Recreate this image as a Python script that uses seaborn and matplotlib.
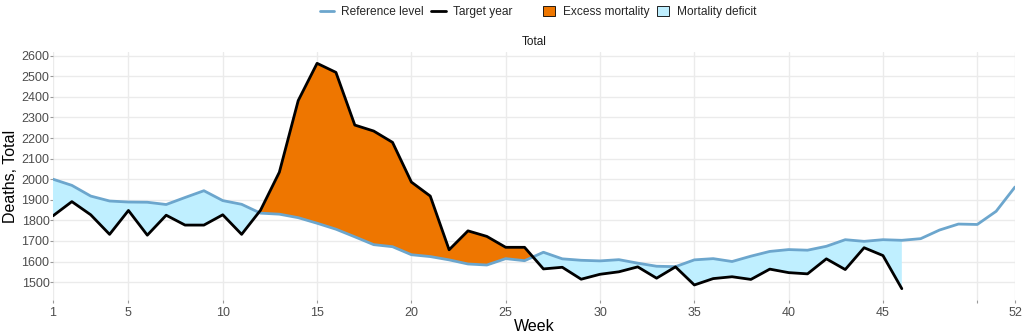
import numpy as np
import pandas as pd
import matplotlib
matplotlib.use("Agg")
import matplotlib.pyplot as plt
from matplotlib.lines import Line2D
from matplotlib.patches import Patch
import seaborn as sns

weeks = list(range(1, 53))
reference = [2000, 1970, 1918, 1894, 1889, 1888, 1877, 1911, 1944, 1896,
             1878, 1835, 1830, 1813, 1786, 1757, 1720, 1682, 1672, 1633,
             1624, 1608, 1588, 1583, 1614, 1604, 1645, 1613, 1606, 1603,
             1609, 1592, 1577, 1575, 1608, 1614, 1600, 1626, 1649, 1658,
             1655, 1674, 1706, 1698, 1706, 1703, 1711, 1753, 1782, 1780,
             1844, 1962]
target_weeks = list(range(1, 47))
target = [1822, 1891, 1827, 1732, 1848, 1728, 1825, 1777, 1777, 1827,
          1732, 1849, 2034, 2382, 2563, 2519, 2263, 2234, 2179, 1986,
          1918, 1657, 1749, 1722, 1669, 1669, 1564, 1572, 1514, 1538,
          1550, 1574, 1519, 1574, 1486, 1517, 1526, 1513, 1563, 1546,
          1540, 1613, 1561, 1667, 1629, 1468]
x_ticks = [1, 5, 10, 15, 20, 25, 30, 35, 40, 45, 50, 52]
x_tick_labels = ["1", "5", "10", "15", "20", "25", "30", "35", "40", "45", "", "52"]
y_ticks = list(range(1500, 2700, 100))

sns.set_theme(style="whitegrid")
plt.rcParams['font.family'] = ['Liberation Sans', 'DejaVu Sans']

ref_df = pd.DataFrame({"week": weeks, "deaths": reference})
tgt_df = pd.DataFrame({"week": target_weeks, "deaths": target})

fig = plt.figure(figsize=(10.24, 3.34), dpi=100)
ax = fig.add_axes([53/1024, 1 - 300/334, (1015 - 53)/1024, (300 - 52)/334])

orange = "#EE7600"
lightblue = "#BFEFFF"
lineblue = "#6CA6CD"

tw = np.array(target_weeks, dtype=float)
tv = np.array(target, dtype=float)
rv = np.array(reference[:len(target_weeks)], dtype=float)
ax.fill_between(tw, rv, tv, where=tv >= rv, interpolate=True,
                color=orange, linewidth=0, zorder=2)
ax.fill_between(tw, rv, tv, where=tv <= rv, interpolate=True,
                color=lightblue, linewidth=0, zorder=2)

sns.lineplot(data=ref_df, x="week", y="deaths", ax=ax, color=lineblue,
             linewidth=2.0, zorder=3)
sns.lineplot(data=tgt_df, x="week", y="deaths", ax=ax, color="black",
             linewidth=2.0, zorder=4)

ax.set_xlim(1, 52)
ax.set_ylim(1413, 2618)
ax.set_xticks(x_ticks)
ax.set_xticklabels(x_tick_labels)
ax.set_yticks(y_ticks)
ax.set_yticklabels([str(v) for v in y_ticks])
for s in ax.spines.values():
    s.set_visible(False)
ax.grid(True, color="#EBEBEB", linewidth=1.0)
ax.set_axisbelow(True)
ax.tick_params(axis="both", length=2, width=0.8, color="#9A9A9A",
               labelcolor="#4D4D4D", labelsize=9, pad=0.5)
ax.tick_params(axis="x", pad=3)
ax.tick_params(left=True, bottom=True)
ax.set_xlabel("Week", fontsize=11.5, labelpad=0, color="black")
ax.set_ylabel("Deaths, Total", fontsize=11.5, color="black")
ax.yaxis.set_label_coords(-35/962, 0.5)
ax.set_title("Total", fontsize=8.5, color="#1A1A1A", pad=5)

h1 = [Line2D([0], [0], color=lineblue, lw=2), Line2D([0], [0], color="black", lw=2)]
leg1 = fig.legend(h1, ["Reference level", "Target year"], loc="center",
                  bbox_to_anchor=(416/1024, 1 - 12/334), ncol=2, frameon=False,
                  fontsize=8.6, handlelength=1.2, handletextpad=0.6, columnspacing=0.6)
h2 = [Patch(facecolor=orange, edgecolor="black", linewidth=0.6),
      Patch(facecolor=lightblue, edgecolor="black", linewidth=0.6)]
leg2 = fig.legend(h2, ["Excess mortality", "Mortality deficit"], loc="center",
                  bbox_to_anchor=(650/1024, 1 - 12/334), ncol=2, frameon=False,
                  fontsize=8.6, handlelength=1.0, handleheight=1.0,
                  handletextpad=0.7, columnspacing=0.6)

fig.savefig("out.png", dpi=100)
